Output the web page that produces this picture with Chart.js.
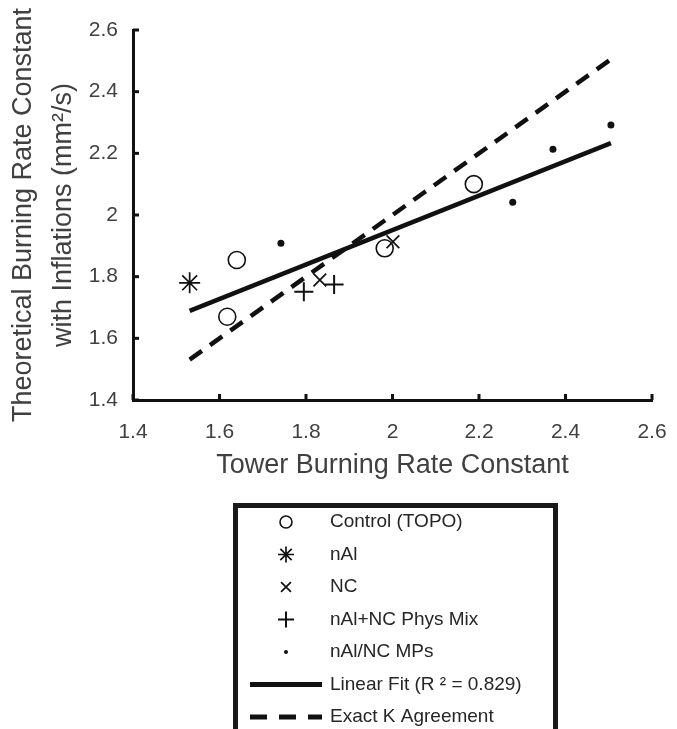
<!DOCTYPE html>
<html>
<head>
<meta charset="utf-8">
<script src="https://cdn.jsdelivr.net/npm/chart.js@4/dist/chart.umd.min.js"></script>
<style>
  html, body { margin: 0; padding: 0; background: #fff; }
  #wrap { width: 677px; height: 729px; }
</style>
</head>
<body>
<div id="wrap"><canvas id="grafico" width="677" height="729"></canvas></div>
<script>
// =======================
// Data
// =======================
const controlX = [1.618, 1.640, 1.982, 2.188];
const controlY = [1.670, 1.854, 1.892, 2.100];

const nAlX = [1.531];
const nAlY = [1.780];

const ncX = [1.832, 2.001];
const ncY = [1.789, 1.913];

const physMixX = [1.795, 1.865];
const physMixY = [1.751, 1.775];

const mpsX = [1.742, 2.278, 2.371, 2.505];
const mpsY = [1.908, 2.041, 2.213, 2.292];

// line end points
const fitX = [1.531, 2.505];
const fitY = [1.689, 2.233];
const exactX = [1.531, 2.505];
const exactY = [1.531, 2.505];

const xTicks = [1.4, 1.6, 1.8, 2.0, 2.2, 2.4, 2.6];
const yTicks = [1.4, 1.6, 1.8, 2.0, 2.2, 2.4, 2.6];

const labels = [
  "Control (TOPO)",
  "nAl",
  "NC",
  "nAl+NC Phys Mix",
  "nAl/NC MPs",
  "Linear Fit (R \u00b2 = 0.829)",
  "Exact K Agreement"
];

// =======================
// Helpers
// =======================
function pares(xs, ys) {
  return xs.map((x, i) => ({ x: x, y: ys[i] }));
}

const FONTE = "'Liberation Sans', Arial, Helvetica, sans-serif";
const CINZA = "#404040";

// =======================
// Plugin: inward ticks + boxed legend
// =======================
const ticksInternos = {
  id: "ticksInternos",
  afterDraw(chart) {
    const ctx = chart.ctx;
    const xs = chart.scales.x;
    const ys = chart.scales.y;
    const area = chart.chartArea;
    ctx.save();
    ctx.strokeStyle = "#111";
    ctx.lineWidth = 3;
    xTicks.forEach((v) => {
      const px = xs.getPixelForValue(v);
      ctx.beginPath();
      ctx.moveTo(px, area.bottom);
      ctx.lineTo(px, area.bottom - 6);
      ctx.stroke();
    });
    yTicks.forEach((v) => {
      const py = ys.getPixelForValue(v);
      ctx.beginPath();
      ctx.moveTo(area.left, py);
      ctx.lineTo(area.left + 6, py);
      ctx.stroke();
    });
    ctx.restore();
  }
};

const legendaBox = {
  id: "legendaBox",
  afterDraw(chart) {
    const ctx = chart.ctx;
    const drawPoint = Chart.helpers && Chart.helpers.drawPoint;
    ctx.save();
    // box (runs off the bottom of the image)
    ctx.strokeStyle = "#1a1a1a";
    ctx.lineWidth = 5;
    ctx.strokeRect(235.5, 505.5, 320, 260);

    ctx.font = "19px " + FONTE;
    ctx.textBaseline = "middle";
    ctx.textAlign = "left";

    chart.data.datasets.forEach((ds, i) => {
      const y = 522 + i * 32.5;
      if (ds.showLine) {
        ctx.beginPath();
        ctx.strokeStyle = "#111";
        ctx.lineWidth = 5;
        ctx.setLineDash(ds.borderDash && ds.borderDash.length ? [17, 12] : []);
        ctx.moveTo(250, y);
        ctx.lineTo(322, y);
        ctx.stroke();
        ctx.setLineDash([]);
      } else if (drawPoint) {
        ctx.strokeStyle = "#111";
        ctx.fillStyle = ds.pointBackgroundColor;
        ctx.lineWidth = ds.pointBorderWidth;
        drawPoint(ctx, {
          pointStyle: ds.pointStyle,
          radius: ds.legendRadius,
          rotation: 0,
          borderWidth: ds.pointBorderWidth
        }, 286, y);
      }
      ctx.fillStyle = "#262626";
      ctx.fillText(ds.label, 330, y);
    });
    ctx.restore();
  }
};

// =======================
// Chart
// =======================
const ctx = document.getElementById("grafico").getContext("2d");

const grafico = new Chart(ctx, {
  type: "scatter",
  data: {
    datasets: [
      {
        label: labels[0],
        data: pares(controlX, controlY),
        pointStyle: "circle",
        pointRadius: 8.5,
        legendRadius: 6,
        pointBorderWidth: 1.6,
        pointBorderColor: "#111",
        pointBackgroundColor: "rgba(0,0,0,0)"
      },
      {
        label: labels[1],
        data: pares(nAlX, nAlY),
        pointStyle: "star",
        pointRadius: 10.5,
        legendRadius: 8,
        pointBorderWidth: 1.7,
        pointBorderColor: "#111",
        pointBackgroundColor: "#111"
      },
      {
        label: labels[2],
        data: pares(ncX, ncY),
        pointStyle: "crossRot",
        pointRadius: 9,
        legendRadius: 7,
        pointBorderWidth: 1.7,
        pointBorderColor: "#111",
        pointBackgroundColor: "#111"
      },
      {
        label: labels[3],
        data: pares(physMixX, physMixY),
        pointStyle: "cross",
        pointRadius: 9.5,
        legendRadius: 8,
        pointBorderWidth: 2,
        pointBorderColor: "#111",
        pointBackgroundColor: "#111"
      },
      {
        label: labels[4],
        data: pares(mpsX, mpsY),
        pointStyle: "circle",
        pointRadius: 3.5,
        legendRadius: 2,
        pointBorderWidth: 0,
        pointBorderColor: "#111",
        pointBackgroundColor: "#111"
      },
      {
        label: labels[5],
        data: pares(fitX, fitY),
        showLine: true,
        borderColor: "#111",
        borderWidth: 4.5,
        pointRadius: 0,
        borderCapStyle: "butt"
      },
      {
        label: labels[6],
        data: pares(exactX, exactY),
        showLine: true,
        borderColor: "#111",
        borderWidth: 4.5,
        borderDash: [15, 10],
        pointRadius: 0,
        borderCapStyle: "butt"
      }
    ]
  },
  options: {
    responsive: false,
    animation: false,
    layout: { padding: { left: 0, top: 30, right: 25, bottom: 247 } },
    plugins: {
      legend: { display: false },
      tooltip: { enabled: false }
    },
    scales: {
      x: {
        type: "linear",
        min: 1.4,
        max: 2.6,
        afterFit: (s) => { s.height = 82; },
        afterBuildTicks: (s) => { s.ticks = xTicks.map((v) => ({ value: v })); },
        // invisible tick marks just push the labels down
        grid: { display: true, drawOnChartArea: false, drawTicks: true, tickLength: 20, color: "rgba(0,0,0,0)" },
        border: { display: true, color: "#111", width: 3 },
        ticks: {
          padding: 0,
          color: CINZA,
          font: { family: FONTE, size: 21 },
          callback: (v) => String(+v.toFixed(1))
        },
        title: {
          display: true,
          text: "Tower Burning Rate Constant",
          color: CINZA,
          font: { family: FONTE, size: 27 },
          padding: { top: 0, bottom: 0 }
        }
      },
      y: {
        type: "linear",
        min: 1.4,
        max: 2.6,
        afterFit: (s) => { s.width = 133; },
        afterBuildTicks: (s) => { s.ticks = yTicks.map((v) => ({ value: v })); },
        grid: { display: false, drawTicks: false },
        border: { display: true, color: "#111", width: 3 },
        ticks: {
          padding: 15,
          color: CINZA,
          font: { family: FONTE, size: 21 },
          callback: (v) => String(+v.toFixed(1))
        },
        title: {
          display: true,
          text: ["Theoretical Burning Rate Constant", "with Inflations (mm\u00b2/s)"],
          color: CINZA,
          font: { family: FONTE, size: 27, lineHeight: 1.5 },
          padding: { top: 3, bottom: 0 }
        }
      }
    }
  },
  plugins: [ticksInternos, legendaBox]
});
</script>
</body>
</html>
